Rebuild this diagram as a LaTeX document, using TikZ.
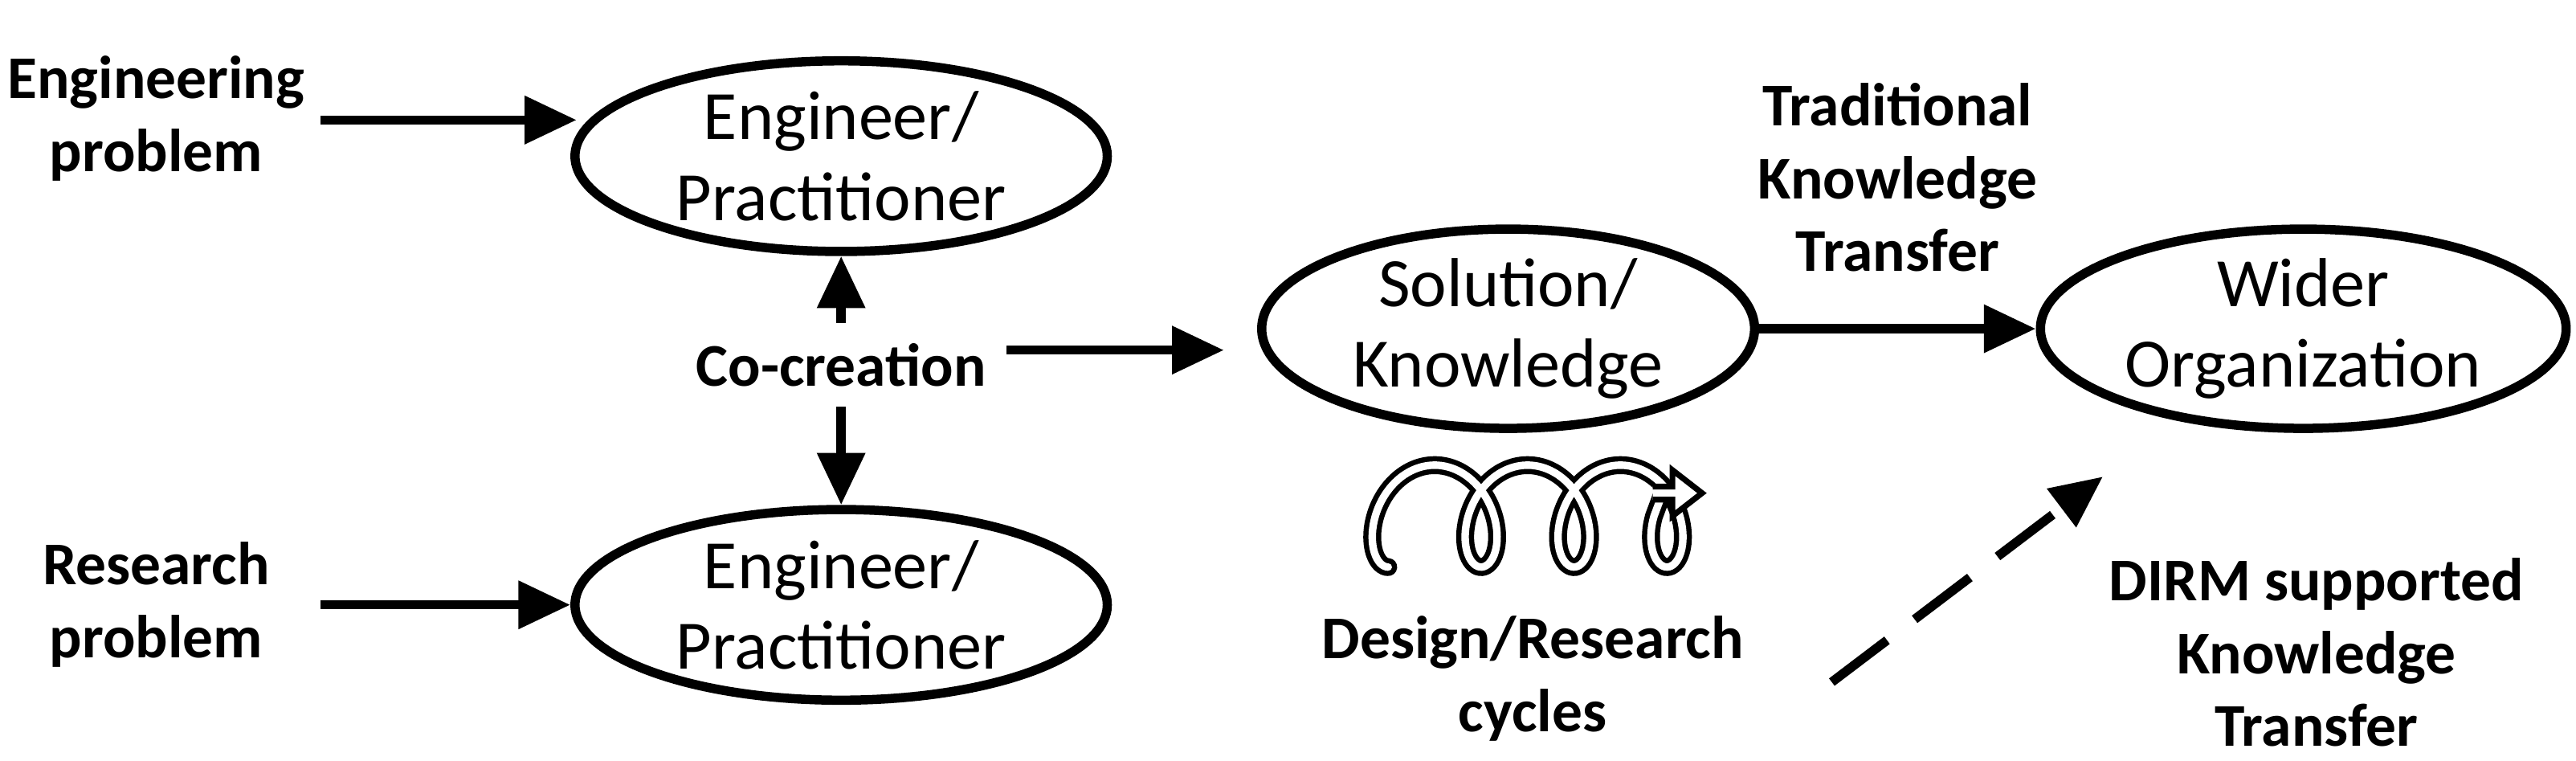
\documentclass[tikz,border=0pt]{standalone}
\usepackage{fontspec}
\setmainfont{Carlito}
\usetikzlibrary{positioning,arrows.meta,shapes.geometric}
\tikzset{
  actor/.style={draw, ellipse, line width=1.6pt, minimum width=32.4mm, minimum height=11.6mm, inner sep=0pt, align=center, font=\fontsize{12}{14}\selectfont},
  label/.style={align=center, font=\fontsize{10.5}{12.6}\selectfont\bfseries},
  flow/.style={line width=1.6pt, -{Triangle[length=9pt,width=8pt]}},
}
\begin{document}
\begin{tikzpicture}[x=0.1mm,y=-0.1mm]
\useasboundingbox (0,0) rectangle (1568,463);
% actors
\node[actor] (eng1) at (512,95) {Engineer/\\Practitioner};
\node[actor] (eng2) at (512,368) {Engineer/\\Practitioner};
\node[actor, minimum width=30mm, minimum height=11mm] (sol) at (918,200) {Solution/\\Knowledge};
\node[actor, minimum width=32mm] (wider) at (1402,200) {Wider\\Organization};
% labels
\node[label] (engp) at (95,72) {Engineering\\problem};
\node[label] (resp) at (95,368) {Research\\problem};
\node[label] (cocr) at (512,222) {Co-creation};
\node[label] (trad) at (1155,108) {Traditional\\Knowledge\\Transfer};
\node[label] (dirm) at (1410,397) {DIRM supported\\Knowledge\\Transfer};
\node[label] (cyc) at (933,413) {Design/Research\\cycles};
\coordinate (engin) at (351,73);
\coordinate (solin) at (745,213);
\coordinate (dstart) at (1115,415);
\coordinate (dend) at (1280,290);
% connectors
\draw[flow] (195,73) -- (engin);
\draw[flow] (195,368) -- (eng2);
\draw[flow] (cocr) -- (eng1);
\draw[flow] (cocr) -- (eng2);
\draw[flow] (cocr.east |- solin) -- (solin);
\draw[flow] (sol) -- (wider);
\draw[flow, dash pattern=on 12pt off 6pt] (dstart) -- (dend);
% spiral
\draw[line width=0.9pt, double=white, double distance=1.3pt, line cap=round]
  plot[domain=0:20.42, samples=220, smooth] ({845+9*\x-22*sin(\x r)}, {314+31*cos(\x r)})
  -- (1012,300);
\draw[line width=1pt, fill=white, line join=miter]
  (1006,296) -- (1018,296) -- (1018,286) -- (1036,300) -- (1018,314) -- (1018,304) -- (1006,304);
\end{tikzpicture}
\end{document}
